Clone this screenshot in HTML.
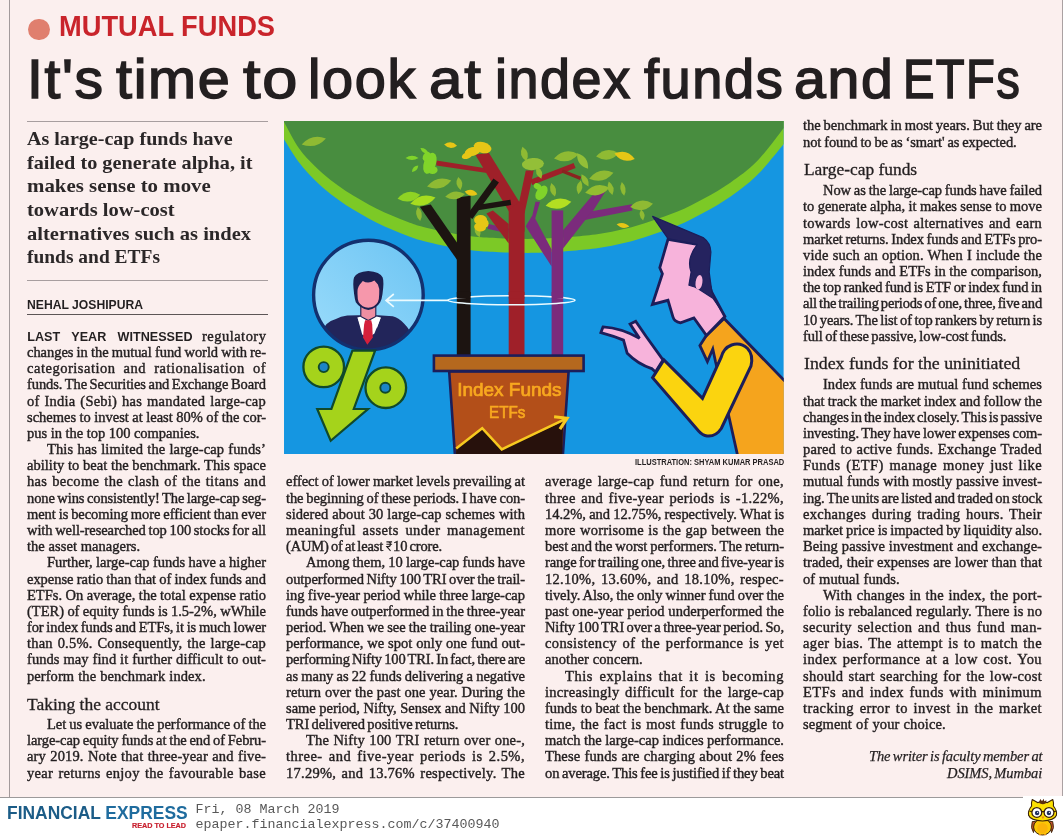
<!DOCTYPE html>
<html><head><meta charset="utf-8"><title>It's time to look at index funds and ETFs</title>
<style>
html,body{margin:0;padding:0}
body{width:1063px;height:837px;position:relative;overflow:hidden;background:#fbefee;}
#page{position:absolute;left:0;top:0;width:1063px;height:837px;overflow:hidden;background:#fbefee;will-change:transform}
.t{position:absolute;white-space:pre;transform-origin:0 0;margin:0;padding:0}
.rs{display:inline-block;vertical-align:-0.5px;margin:0 0.3px}
.body{font:15.0px/18px 'Liberation Serif',serif;color:#231f20;-webkit-text-stroke:0.42px #231f20;}
.bodyi{font:italic 15.0px/18px 'Liberation Serif',serif;color:#231f20;-webkit-text-stroke:0.25px #231f20;}
.sub{font:16.3px/22px 'Liberation Serif',serif;color:#231f20;-webkit-text-stroke:0.3px #231f20;}
.deck{font:bold 19px/24px 'Liberation Serif',serif;color:#2b2728;}
.lead{font:bold 12.6px/16px 'Liberation Sans',sans-serif;color:#231f20;}
.byline{font:bold 12.6px/16px 'Liberation Sans',sans-serif;color:#231f20;}
.kicker{font:bold 28.6px/30px 'Liberation Sans',sans-serif;color:#c9242b;}
.head{font:55.3px/60px 'Liberation Sans',sans-serif;color:#231f20;-webkit-text-stroke:1.5px #231f20;letter-spacing:1.6px;}
.cap{font:bold 8.4px/10px 'Liberation Sans',sans-serif;color:#231f20;}
.fe{font:bold 18.7px/22px 'Liberation Sans',sans-serif;color:#1b5c87;}
.rtl{font:bold 7.4px/8px 'Liberation Sans',sans-serif;color:#c8202f;-webkit-text-stroke:0.2px #c8202f;}
.mono{font:13.333px/15px 'Liberation Mono',monospace;color:#585858;}

.vl{position:absolute;left:8.9px;top:0;width:1.3px;height:797px;background:#a39a9b}
.vr{position:absolute;left:1061.5px;top:0;width:1.5px;height:797px;background:#aaa1a2}
.foot{position:absolute;left:0;top:798px;width:1063px;height:39px;background:#fff}
.fline{position:absolute;left:0;top:796.7px;width:1023px;height:1.4px;background:#9c9a9a}
.owlbox{position:absolute;left:1023px;top:795.5px;width:40px;height:41.5px;background:#fff}
.r1{position:absolute;left:27.3px;width:240.3px;height:1.6px;background:#a79e9f}
.dot{position:absolute;left:28.2px;top:18.6px;width:21.6px;height:21.6px;border-radius:50%;background:#e07f6e}
.owl{position:absolute;left:1025px;top:797px}
</style></head>
<body>
<div id="page">
<div class="vl"></div><div class="vr"></div>
<div class="foot"></div><div class="fline"></div><div class="owlbox"></div>
<svg class="owl" width="36" height="40" viewBox="1025 797 36 40">
<path d="M1032.3,821.5Q1030.2,828 1033.5,832.6L1036,821.5ZM1052.7,821.5Q1054.8,828 1051.5,832.6L1049,821.5Z" fill="#c4532e" stroke="#3a2208" stroke-width="0.9"/>
<ellipse cx="1042.5" cy="827" rx="8.9" ry="8" fill="#fcc707" stroke="#3a2208" stroke-width="1"/>
<ellipse cx="1042.5" cy="828.3" rx="5.2" ry="5.3" fill="#fbb40a"/>
<path d="M1039,834.6h2.4M1043.8,834.6h2.4" stroke="#e08a1a" stroke-width="1.3"/>
<path d="M1032.2,799.6L1037.5,802.6Q1042.5,801.2 1047.5,802.6L1052.8,799.6Q1054,803.5 1053.4,806Q1057.4,811 1056.4,815.3Q1054.5,820.6 1042.5,821Q1030.5,820.6 1028.6,815.3Q1027.6,811 1031.6,806Q1031,803.5 1032.2,799.6Z" fill="#fce103" stroke="#3a2208" stroke-width="1.1" stroke-linejoin="round"/>
<path d="M1038.6,802.8L1040.4,798.9L1042,801.2L1043.6,798.7L1044.4,801.4L1046.4,800L1045.9,803.2Q1042.5,805.4 1038.6,802.8Z" fill="#5b2f0f"/>
<circle cx="1036.8" cy="812.4" r="4.9" fill="#fff" stroke="#3a2208" stroke-width="1.25"/>
<circle cx="1049" cy="812.4" r="4.9" fill="#fff" stroke="#3a2208" stroke-width="1.25"/>
<path d="M1041.6,811.6h2.7M1031.9,811.8l-2.4,-0.8M1053.9,811.8l2.4,-0.8" stroke="#3a2208" stroke-width="1.1"/>
<circle cx="1037.1" cy="813" r="2.2" fill="#1f2f5e"/><circle cx="1048.9" cy="813" r="2.2" fill="#1f2f5e"/>
<circle cx="1037.6" cy="812.3" r="0.6" fill="#fff"/><circle cx="1049.4" cy="812.3" r="0.6" fill="#fff"/>
<path d="M1041.3,816.6h3.2l-1.6,2.3Z" fill="#f0831e"/>
</svg>
<div class="dot"></div>
<div class="r1" style="top:120.8px"></div>
<div class="r1" style="top:279.5px"></div>
<div class="r1" style="top:313.5px;background:#5c5556;height:1.1px"></div>

<svg style="position:absolute;left:284.4px;top:121.0px" width="499.8" height="333.2" viewBox="284.4 121.0 499.8 333.2">
<defs><clipPath id="cf"><rect x="284.4" y="121.0" width="499.8" height="333.2"/></clipPath><clipPath id="cc"><circle cx="368.8" cy="295.1" r="54.8"/></clipPath><linearGradient id="gc" x1="0" y1="1" x2="1" y2="0"><stop offset="0" stop-color="#9bdcfb"/><stop offset="1" stop-color="#6cc4f3"/></linearGradient></defs>
<g clip-path="url(#cf)">
<rect x="284.4" y="121.0" width="499.8" height="333.2" fill="#1596e1"/>
<path d="M284.4,139.3C284.6,139.6 283.1,137.3 285.6,141.2C288.1,145.1 294.6,156.1 299.5,162.6C304.4,169.1 309.9,174.8 315.1,180.0C320.3,185.2 325.4,189.5 330.6,193.7C335.8,197.8 341.0,201.5 346.2,204.9C351.4,208.3 356.5,211.2 361.7,214.2C366.9,217.2 372.0,220.2 377.2,222.8C382.4,225.4 387.6,227.6 392.8,229.8C398.0,232.0 403.1,234.1 408.3,236.0C413.5,237.9 416.7,239.2 423.8,241.0C430.9,242.8 442.6,245.5 451.2,247.1C459.8,248.7 467.6,250.0 475.7,250.8C483.8,251.7 490.1,251.9 500.0,252.2C509.9,252.5 522.9,253.1 535.0,252.8C547.1,252.6 562.0,251.5 572.7,250.7C583.4,249.9 590.2,249.3 599.0,248.0C607.8,246.7 616.6,245.0 625.4,242.8C634.2,240.6 642.9,237.8 651.7,234.9C660.5,232.0 669.2,229.3 678.0,225.6C686.8,221.9 695.6,217.3 704.4,212.5C713.2,207.7 721.9,202.8 730.7,196.7C739.5,190.5 748.2,184.4 757.1,175.6C766.0,166.8 779.7,149.3 784.2,144.0L784.2,121L284.4,121Z" fill="#7cc926"/>
<path d="M284.4,122.1C284.6,122.5 283.1,119.8 285.6,124.2C288.1,128.6 294.6,141.5 299.5,148.5C304.4,155.5 309.9,160.8 315.1,166.0C320.3,171.2 325.4,175.5 330.6,179.7C335.8,183.8 341.0,187.5 346.2,190.9C351.4,194.3 356.5,197.2 361.7,200.2C366.9,203.2 372.0,206.2 377.2,208.8C382.4,211.4 387.6,213.6 392.8,215.8C398.0,218.0 403.1,220.1 408.3,222.0C413.5,223.9 416.7,225.2 423.8,227.0C430.9,228.8 442.6,231.5 451.2,233.1C459.8,234.7 467.6,236.0 475.7,236.8C483.8,237.7 490.1,237.9 500.0,238.2C509.9,238.5 522.9,239.1 535.0,238.8C547.1,238.6 562.0,237.5 572.7,236.7C583.4,235.9 590.2,235.3 599.0,234.0C607.8,232.7 616.6,231.0 625.4,228.8C634.2,226.6 642.9,223.8 651.7,220.9C660.5,218.0 669.2,215.3 678.0,211.6C686.8,207.9 695.6,203.3 704.4,198.5C713.2,193.7 721.9,188.8 730.7,182.7C739.5,176.5 748.2,170.7 757.1,161.6C766.0,152.5 779.7,133.6 784.2,128.0L784.2,121L284.4,121Z" fill="#488d3f"/>
<path d="M-12.5,0Q0,-8.549999999999999 12.5,0Q0,8.549999999999999 -12.5,0Z" fill="#8fba33" transform="translate(314.2,141.4) rotate(-14)"/>
<line x1="509" y1="231" x2="488.5" y2="226.4" stroke="#7b2b7c" stroke-width="5" stroke-linecap="butt"/>
<path d="M552,266.6L526.1,226.3L532.8,215.2L535.9,201.8H540.4L535.6,218.6L552,249.5Z" fill="#7b2b7c"/>
<path d="M563.5,230.2L592.6,195.5L606.8,190L593.4,210.9L585.9,219.7L563.5,248.6Z" fill="#7b2b7c"/>
<path d="M592,211.2L632.3,204.2L632.7,210.5L585,220Z" fill="#7b2b7c"/>
<rect x="552" y="210.4" width="11.6" height="146" fill="#7b2b7c"/>
<path d="M436.8,160.4L486,168.2L487.5,173L436.8,165.6Z" fill="#9f2029"/>
<path d="M475.6,154.5L489.4,153.1L519.6,201.8L524.9,206V232L509.1,211Z" fill="#9f2029"/>
<path d="M509.1,243.5L486.8,213.6L493.3,210.6L509.1,224.1Z" fill="#9f2029"/>
<path d="M519.6,201.8L526.2,170.6H534.1L531.5,183.4L524.9,213.6L519.6,213Z" fill="#9f2029"/>
<line x1="531.6" y1="182.3" x2="575" y2="165.5" stroke="#9f2029" stroke-width="5.6" stroke-linecap="butt"/>
<line x1="562.5" y1="171" x2="581" y2="178.3" stroke="#8a2420" stroke-width="3.4" stroke-linecap="butt"/>
<path d="M509.1,357V210L519.6,201.8L524.9,206V357Z" fill="#9f2029"/>
<path d="M420.2,206.8L431.1,204.5L457.4,242.5V259.8Z" fill="#1c1411"/>
<line x1="470" y1="217" x2="496.6" y2="180.4" stroke="#1c1411" stroke-width="6.8" stroke-linecap="butt"/>
<line x1="478" y1="207.6" x2="511.2" y2="202.4" stroke="#1c1411" stroke-width="5.5" stroke-linecap="butt"/>
<path d="M457.2,357V197.6L471,195.7V357Z" fill="#1c1411"/>
<path d="M-6.5,0Q0,-4.2749999999999995 6.5,0Q0,4.2749999999999995 -6.5,0Z" fill="#80d42a" transform="translate(412.4,157.9) rotate(0)"/>
<path d="M-5.0,0Q0,-3.8 5.0,0Q0,3.8 -5.0,0Z" fill="#80d42a" transform="translate(424.9,150.9) rotate(35)"/>
<path d="M-4.5,0Q0,-3.8 4.5,0Q0,3.8 -4.5,0Z" fill="#80d42a" transform="translate(415.5,168.7) rotate(-45)"/>
<path d="M-12.5,0Q0,-9.5 12.5,0Q0,9.5 -12.5,0Z" fill="#8fba33" transform="translate(439.6,183.5) rotate(-14)"/>
<path d="M-11.5,0Q0,-9.5 11.5,0Q0,9.5 -11.5,0Z" fill="#8fd324" transform="translate(409.3,196.7) rotate(-10)"/>
<path d="M-13.0,0Q0,-9.5 13.0,0Q0,9.5 -13.0,0Z" fill="#a6dc1f" transform="translate(423.3,200.6) rotate(-14)"/>
<path d="M-7.0,0Q0,-5.699999999999999 7.0,0Q0,5.699999999999999 -7.0,0Z" fill="#8fba33" transform="translate(419.4,214) rotate(80)"/>
<path d="M-6.5,0Q0,-5.699999999999999 6.5,0Q0,5.699999999999999 -6.5,0Z" fill="#8fba33" transform="translate(459.8,183.5) rotate(80)"/>
<path d="M-10.0,0Q0,-7.6 10.0,0Q0,7.6 -10.0,0Z" fill="#8fba33" transform="translate(455.5,195.4) rotate(-8)"/>
<path d="M-6.5,0Q0,-5.699999999999999 6.5,0Q0,5.699999999999999 -6.5,0Z" fill="#e6c616" transform="translate(471.5,192.8) rotate(12)"/>
<path d="M-6.5,0Q0,-5.699999999999999 6.5,0Q0,5.699999999999999 -6.5,0Z" fill="#e6c616" transform="translate(451,145.1) rotate(5)"/>
<path d="M-7.5,0Q0,-6.6499999999999995 7.5,0Q0,6.6499999999999995 -7.5,0Z" fill="#8fba33" transform="translate(524.8,154) rotate(75)"/>
<path d="M-6.5,0Q0,-5.699999999999999 6.5,0Q0,5.699999999999999 -6.5,0Z" fill="#8fba33" transform="translate(539.5,172.6) rotate(70)"/>
<path d="M-12.5,0Q0,-9.5 12.5,0Q0,9.5 -12.5,0Z" fill="#8fba33" transform="translate(566.7,156.3) rotate(-10)"/>
<path d="M-9.5,0Q0,-7.6 9.5,0Q0,7.6 -9.5,0Z" fill="#93bf38" transform="translate(583,161) rotate(55)"/>
<path d="M-11.5,0Q0,-9.5 11.5,0Q0,9.5 -11.5,0Z" fill="#8fba33" transform="translate(607.9,154.8) rotate(-8)"/>
<path d="M-10.5,0Q0,-8.549999999999999 10.5,0Q0,8.549999999999999 -10.5,0Z" fill="#e6c616" transform="translate(625,156.3) rotate(15)"/>
<path d="M-12.5,0Q0,-9.5 12.5,0Q0,9.5 -12.5,0Z" fill="#8fba33" transform="translate(601.7,175.7) rotate(-14)"/>
<path d="M-12.5,0Q0,-9.975 12.5,0Q0,9.975 -12.5,0Z" fill="#93bd31" transform="translate(597.8,190.2) rotate(-12)"/>
<path d="M-7.0,0Q0,-5.699999999999999 7.0,0Q0,5.699999999999999 -7.0,0Z" fill="#8fba33" transform="translate(585.4,180.4) rotate(60)"/>
<path d="M-7.0,0Q0,-5.699999999999999 7.0,0Q0,5.699999999999999 -7.0,0Z" fill="#8fba33" transform="translate(579.9,187.4) rotate(100)"/>
<path d="M-7.0,0Q0,-5.699999999999999 7.0,0Q0,5.699999999999999 -7.0,0Z" fill="#8fba33" transform="translate(611,188.2) rotate(75)"/>
<path d="M-7.0,0Q0,-5.225 7.0,0Q0,5.225 -7.0,0Z" fill="#8fba33" transform="translate(623.4,188.9) rotate(80)"/>
<path d="M-7.0,0Q0,-5.699999999999999 7.0,0Q0,5.699999999999999 -7.0,0Z" fill="#8fba33" transform="translate(553.5,189.7) rotate(75)"/>
<path d="M-13.0,0Q0,-9.975 13.0,0Q0,9.975 -13.0,0Z" fill="#b3df22" transform="translate(558.9,203.7) rotate(-9)"/>
<path d="M-11.5,0Q0,-9.5 11.5,0Q0,9.5 -11.5,0Z" fill="#8fba33" transform="translate(642,205.3) rotate(-8)"/>
<path d="M-5.5,0Q0,-4.75 5.5,0Q0,4.75 -5.5,0Z" fill="#8fba33" transform="translate(642.5,215) rotate(80)"/>
<path d="M-6.5,0Q0,-4.75 6.5,0Q0,4.75 -6.5,0Z" fill="#e6c616" transform="translate(623.4,225.5) rotate(10)"/>
<path d="M-6.0,0Q0,-5.699999999999999 6.0,0Q0,5.699999999999999 -6.0,0Z" fill="#8fba33" transform="translate(478,231.5) rotate(70)"/>
<ellipse cx="0" cy="0" rx="6" ry="11" fill="#80d42a" transform="translate(430.3,163.3) rotate(20)"/>
<ellipse cx="0" cy="0" rx="5" ry="4" fill="#80d42a" transform="translate(433,170) rotate(0)"/>
<ellipse cx="0" cy="0" rx="3.5" ry="5" fill="#80d42a" transform="translate(427,156.5) rotate(30)"/>
<ellipse cx="0" cy="0" rx="11" ry="6" fill="#93bf38" transform="translate(533.3,164.1) rotate(-5)"/>
<ellipse cx="0" cy="0" rx="5" ry="8" fill="#80d42a" transform="translate(541.9,192.8) rotate(35)"/>
<ellipse cx="0" cy="0" rx="4" ry="3" fill="#80d42a" transform="translate(538,186.5) rotate(30)"/>
<ellipse cx="0" cy="0" rx="9" ry="5.5" fill="#e6c616" transform="translate(483,147.5) rotate(15)"/>
<ellipse cx="0" cy="0" rx="8" ry="4.5" fill="#e6c616" transform="translate(473,151.5) rotate(-15)"/>
<ellipse cx="0" cy="0" rx="5.5" ry="3.2" fill="#e6c616" transform="translate(467.5,155.5) rotate(-20)"/>
<ellipse cx="0" cy="0" rx="6.5" ry="5" fill="#e6c616" transform="translate(481,220) rotate(0)"/>
<ellipse cx="0" cy="0" rx="6" ry="4.5" fill="#e6c616" transform="translate(480.5,227) rotate(10)"/>
<ellipse cx="0" cy="0" rx="4" ry="4" fill="#e6c616" transform="translate(485,223.5) rotate(0)"/>
<ellipse cx="511.9" cy="300.3" rx="63.4" ry="4.5" fill="none" stroke="#ecfbff" stroke-width="1.6"/>
<rect x="457.2" y="292" width="13.8" height="6.4" fill="#1c1411"/>
<rect x="509.1" y="292" width="15.8" height="6.4" fill="#9f2029"/>
<rect x="552" y="292" width="11.6" height="6.4" fill="#7b2b7c"/>
<circle cx="368.8" cy="295.1" r="54.8" fill="url(#gc)"/>
<g clip-path="url(#cc)">
<path d="M322,356V333Q325,322 336.3,319Q341,316.4 347.7,315.6L359,315.2H378.3L393.1,316.2Q399,317.4 404.4,323.6Q411,330 414,340V356Z" fill="#22255a"/>
<path d="M357.9,317.6L363,316H374.6L381.2,317.6L374.8,333.6L368.6,338L362.6,334.6Z" fill="#fff"/>
<path d="M361.2,306H376.2V316.4L368.7,320.6L361.2,316.4Z" fill="#ee8fa2" stroke="#1c2150" stroke-width="1.1"/>
<path d="M365.5,320.2H371.6L372.6,324.4L373.2,337.4L367.7,344.8L363.4,337.4L364.5,324.4Z" fill="#d5203b"/>
<path d="M357.9,317.6L364.2,321.4L361.8,328.5ZM381.2,317.6L374.8,321.4L377.2,328.5Z" fill="#fff"/>
</g>
<path d="M354.5,294Q352.9,282 354.4,277.6Q357,271.9 368.7,271.1Q380.5,271.9 383.1,277.6Q384.6,282 382.9,294Q382.2,299.6 380.6,302.2Q377,308.4 368.7,310Q360.4,308.4 356.2,302.2Q355.2,299.6 354.5,294Z" fill="#1c2150"/>
<path d="M357.9,294Q357.4,288 360.2,284.4L363.2,281Q368.7,284.2 374.8,280.6L378.3,284.4Q380.2,288 379.6,294Q379.6,299 378.3,302Q375,307.6 368.7,307.7Q362.4,307.6 359,302Q357.9,299 357.9,294Z" fill="#f697ab"/>
<circle cx="368.8" cy="295.1" r="54.8" fill="none" stroke="#13306f" stroke-width="3.4"/>
<path d="M448.6,300.4H386.8M394.2,294L386.5,300.4L394.2,306.8" fill="none" stroke="#ecfbff" stroke-width="1.7"/>
<path d="M352.8,350.7H375.5L354.2,409H368.4L331.1,440.8L317.6,409H331.8Z" fill="#a5d31b" stroke="#11492b" stroke-width="2.2" stroke-linejoin="miter"/>
<circle cx="324.1" cy="366.9" r="20.3" fill="#a5d31b" stroke="#11492b" stroke-width="2.3"/>
<circle cx="324.1" cy="367.1" r="5" fill="#1c84c6" stroke="#11492b" stroke-width="1.9"/>
<circle cx="386.2" cy="387.7" r="20.3" fill="#a5d31b" stroke="#11492b" stroke-width="2.3"/>
<circle cx="385.7" cy="387.7" r="5" fill="#1c84c6" stroke="#11492b" stroke-width="1.9"/>
<path d="M449.6,371.5H569L563.2,456H455.4Z" fill="#b34f19" stroke="#1c1e5a" stroke-width="2.6"/>
<path d="M456.6,448.6L482.6,428.2L502.2,449.4L558,424L563.6,421.5L562.6,455H456.4Z" fill="#27110c"/>
<path d="M456.6,448.6L482.6,428.2L502.2,449.4L566,419" fill="none" stroke="#f7c920" stroke-width="2.5" stroke-linejoin="miter"/>
<path d="M554.5,416.8L567.5,418.2L560.3,429.2" fill="none" stroke="#f7c920" stroke-width="3.1"/>
<rect x="434.3" y="355.6" width="149.7" height="15.4" fill="#b5681e" stroke="#1c1e5a" stroke-width="2.6"/>
<text x="457.6" y="396" textLength="104.3" lengthAdjust="spacingAndGlyphs" font-family="Liberation Sans, sans-serif" font-size="17.6" fill="#f8a81f" stroke="#f8a81f" stroke-width="0.7">Index Funds</text>
<text x="489.4" y="418.3" textLength="36.4" lengthAdjust="spacingAndGlyphs" font-family="Liberation Sans, sans-serif" font-size="15.6" fill="#f8a81f" stroke="#f8a81f" stroke-width="0.65">ETFs</text>
<path d="M724.5,318.5L790,386V460H739L729.2,416L716,362L713.2,349L707.8,361.5L700.3,345.6L706.8,335.4Z" fill="#f5a41d" stroke="#1c1e5a" stroke-width="2.8" stroke-linejoin="miter"/>
<path d="M668.4,239.3L697.7,244.3L712,292L725.3,316.5L706.9,335.6L694.3,317.9L681,322.9Q674.5,321.5 673.4,317L668.4,300.3L652.8,304.4L662.8,273.8L660.2,267.7Z" fill="#f7b3db" stroke="#1c1e5a" stroke-width="2.8" stroke-linejoin="miter"/>
<path d="M653,216.4L703.5,237.6Q711,243 711.3,252L709.6,272L712.3,292Q717,305 725.6,316.2L713.6,298.6L700.5,290L695.2,287L689.3,285.3L691.5,272Q686.5,258.5 697.7,244.3L668.4,238.6Z" fill="#25235f" stroke="#1c1e5a" stroke-width="1.2" stroke-linejoin="round"/>
<ellipse cx="699.4" cy="282.3" rx="3.4" ry="7.4" fill="#f7b3db" transform="rotate(8 699.4 282.3)"/>
<path d="M663.4,359.9L646.4,336.3L636.1,321.3L630.5,324.1L639.9,338.4Q622,328 603.4,326.9L601.3,332.6Q614,336 623.9,340.1L627.6,353.3Q638,364 652.1,368.6L655.9,372.1Z" fill="#f7b3db" stroke="#1c1e5a" stroke-width="2.8" stroke-linejoin="miter"/>
<path d="M702.9,398.4L721.7,357Q724,348 732,345Q741,342 748,348.5Q754,355 751.4,366L721.7,428.5Q716,437 707.5,436Q703,435.5 699,431L653,377.7L664.3,359.9Z" fill="#fbd40f" stroke="#1c1e5a" stroke-width="3" stroke-linejoin="miter"/>
</g></svg>
<div class="t body" style="left:27.30px;top:342.98px;transform:scaleX(0.968);letter-spacing:-0.056px;word-spacing:-0.403px;">changes in the mutual fund world with re-</div>
<div class="t body" style="left:27.30px;top:359.16px;transform:scaleX(0.968);letter-spacing:0.529px;word-spacing:3.995px;">categorisation and rationalisation of</div>
<div class="t body" style="left:27.30px;top:375.34px;transform:scaleX(0.968);letter-spacing:-0.097px;word-spacing:-0.944px;">funds. The Securities and Exchange Board</div>
<div class="t body" style="left:27.30px;top:391.52px;transform:scaleX(0.968);letter-spacing:0.234px;word-spacing:1.091px;">of India (Sebi) has mandated large-cap</div>
<div class="t body" style="left:27.30px;top:407.70px;transform:scaleX(0.968);letter-spacing:-0.020px;word-spacing:-0.130px;">schemes to invest at least 80% of the cor-</div>
<div class="t body" style="left:27.30px;top:423.88px;transform:scaleX(0.968);letter-spacing:-0.015px;word-spacing:-0.105px;">pus in the top 100 companies.</div>
<div class="t body" style="left:47.30px;top:440.06px;transform:scaleX(0.968);letter-spacing:0.103px;word-spacing:0.468px;">This has limited the large-cap funds’</div>
<div class="t body" style="left:27.30px;top:456.24px;transform:scaleX(0.968);letter-spacing:0.015px;word-spacing:0.063px;">ability to beat the benchmark. This space</div>
<div class="t body" style="left:27.30px;top:472.42px;transform:scaleX(0.968);letter-spacing:0.324px;word-spacing:1.079px;">has become the clash of the titans and</div>
<div class="t body" style="left:27.30px;top:488.60px;transform:scaleX(0.968);letter-spacing:-0.103px;word-spacing:-1.052px;">none wins consistently! The large-cap seg-</div>
<div class="t body" style="left:27.30px;top:504.78px;transform:scaleX(0.968);letter-spacing:-0.076px;word-spacing:-0.634px;">ment is becoming more efficient than ever</div>
<div class="t body" style="left:27.30px;top:520.96px;transform:scaleX(0.968);letter-spacing:-0.093px;word-spacing:-0.813px;">with well-researched top 100 stocks for all</div>
<div class="t body" style="left:27.30px;top:537.14px;transform:scaleX(0.968);letter-spacing:0.024px;word-spacing:0.137px;">the asset managers.</div>
<div class="t body" style="left:47.30px;top:553.32px;transform:scaleX(0.968);letter-spacing:-0.023px;word-spacing:-0.216px;">Further, large-cap funds have a higher</div>
<div class="t body" style="left:27.30px;top:569.50px;transform:scaleX(0.968);letter-spacing:-0.046px;word-spacing:-0.337px;">expense ratio than that of index funds and</div>
<div class="t body" style="left:27.30px;top:585.68px;transform:scaleX(0.968);letter-spacing:-0.015px;word-spacing:-0.124px;">ETFs. On average, the total expense ratio</div>
<div class="t body" style="left:27.30px;top:601.86px;transform:scaleX(0.968);letter-spacing:-0.026px;word-spacing:-0.204px;">(TER) of equity funds is 1.5-2%, wWhile</div>
<div class="t body" style="left:27.30px;top:618.04px;transform:scaleX(0.968);letter-spacing:-0.118px;word-spacing:-0.756px;">for index funds and ETFs, it is much lower</div>
<div class="t body" style="left:27.30px;top:634.22px;transform:scaleX(0.968);letter-spacing:0.195px;word-spacing:1.137px;">than 0.5%. Consequently, the large-cap</div>
<div class="t body" style="left:27.30px;top:650.40px;transform:scaleX(0.968);letter-spacing:0.062px;word-spacing:0.234px;">funds may find it further difficult to out-</div>
<div class="t body" style="left:27.30px;top:666.58px;transform:scaleX(0.968);letter-spacing:0.064px;word-spacing:0.367px;">perform the benchmark index.</div>
<div class="t body" style="left:47.30px;top:715.12px;transform:scaleX(0.968);letter-spacing:-0.053px;word-spacing:-0.412px;">Let us evaluate the performance of the</div>
<div class="t body" style="left:27.30px;top:731.30px;transform:scaleX(0.968);letter-spacing:-0.094px;word-spacing:-0.706px;">large-cap equity funds at the end of Febru-</div>
<div class="t body" style="left:27.30px;top:747.48px;transform:scaleX(0.968);letter-spacing:0.141px;word-spacing:0.576px;">ary 2019. Note that three-year and five-</div>
<div class="t body" style="left:27.30px;top:763.66px;transform:scaleX(0.968);letter-spacing:0.298px;word-spacing:1.387px;">year returns enjoy the favourable base</div>
<div class="t body" style="left:286.20px;top:472.42px;transform:scaleX(0.968);letter-spacing:-0.046px;word-spacing:-0.402px;">effect of lower market levels prevailing at</div>
<div class="t body" style="left:286.20px;top:488.60px;transform:scaleX(0.968);letter-spacing:-0.093px;word-spacing:-0.697px;">the beginning of these periods. I have con-</div>
<div class="t body" style="left:286.20px;top:504.78px;transform:scaleX(0.968);letter-spacing:0.056px;word-spacing:0.266px;">sidered about 30 large-cap schemes with</div>
<div class="t body" style="left:286.20px;top:520.96px;transform:scaleX(0.968);letter-spacing:0.393px;word-spacing:2.729px;">meaningful assets under management</div>
<div class="t body" style="left:286.20px;top:537.14px;transform:scaleX(0.968);letter-spacing:-0.179px;word-spacing:-1.227px;">(AUM) of at least <svg class="rs" viewBox="0 0 10 14" width="7.4" height="10.4"><path d="M1 1.2H9M1 4.4H9M1.2 1.2H3.6Q6.6 1.2 6.6 4.4Q6.6 7.6 3.6 7.6H1.4L6.8 13.4" fill="none" stroke="#231f20" stroke-width="1.5"/></svg>10 crore.</div>
<div class="t body" style="left:306.20px;top:553.32px;transform:scaleX(0.968);letter-spacing:-0.044px;word-spacing:-0.378px;">Among them, 10 large-cap funds have</div>
<div class="t body" style="left:286.20px;top:569.50px;transform:scaleX(0.968);letter-spacing:-0.101px;word-spacing:-0.864px;">outperformed Nifty 100 TRI over the trail-</div>
<div class="t body" style="left:286.20px;top:585.68px;transform:scaleX(0.968);letter-spacing:-0.025px;word-spacing:-0.252px;">ing five-year period while three large-cap</div>
<div class="t body" style="left:286.20px;top:601.86px;transform:scaleX(0.968);letter-spacing:-0.065px;word-spacing:-0.650px;">funds have outperformed in the three-year</div>
<div class="t body" style="left:286.20px;top:618.04px;transform:scaleX(0.968);letter-spacing:-0.044px;word-spacing:-0.364px;">period. When we see the trailing one-year</div>
<div class="t body" style="left:286.20px;top:634.22px;transform:scaleX(0.968);letter-spacing:0.038px;word-spacing:0.151px;">performance, we spot only one fund out-</div>
<div class="t body" style="left:286.20px;top:650.40px;transform:scaleX(0.968);letter-spacing:-0.160px;word-spacing:-1.229px;">performing Nifty 100 TRI. In fact, there are</div>
<div class="t body" style="left:286.20px;top:666.58px;transform:scaleX(0.968);letter-spacing:-0.047px;word-spacing:-0.337px;">as many as 22 funds delivering a negative</div>
<div class="t body" style="left:286.20px;top:682.76px;transform:scaleX(0.968);letter-spacing:0.068px;word-spacing:0.243px;">return over the past one year. During the</div>
<div class="t body" style="left:286.20px;top:698.94px;transform:scaleX(0.968);letter-spacing:-0.014px;word-spacing:-0.115px;">same period, Nifty, Sensex and Nifty 100</div>
<div class="t body" style="left:286.20px;top:715.12px;transform:scaleX(0.968);letter-spacing:-0.089px;word-spacing:-1.124px;">TRI delivered positive returns.</div>
<div class="t body" style="left:306.20px;top:731.30px;transform:scaleX(0.968);letter-spacing:0.168px;word-spacing:0.601px;">The Nifty 100 TRI return over one-,</div>
<div class="t body" style="left:286.20px;top:747.48px;transform:scaleX(0.968);letter-spacing:0.473px;word-spacing:2.145px;">three- and five-year periods is 2.5%,</div>
<div class="t body" style="left:286.20px;top:763.66px;transform:scaleX(0.968);letter-spacing:0.270px;word-spacing:1.491px;">17.29%, and 13.76% respectively. The</div>
<div class="t body" style="left:545.00px;top:472.42px;transform:scaleX(0.968);letter-spacing:0.323px;word-spacing:1.504px;">average large-cap fund return for one,</div>
<div class="t body" style="left:545.00px;top:488.60px;transform:scaleX(0.968);letter-spacing:0.338px;word-spacing:1.575px;">three and five-year periods is -1.22%,</div>
<div class="t body" style="left:545.00px;top:504.78px;transform:scaleX(0.968);letter-spacing:-0.039px;word-spacing:-0.380px;">14.2%, and 12.75%, respectively. What is</div>
<div class="t body" style="left:545.00px;top:520.96px;transform:scaleX(0.968);letter-spacing:0.187px;word-spacing:0.705px;">more worrisome is the gap between the</div>
<div class="t body" style="left:545.00px;top:537.14px;transform:scaleX(0.968);letter-spacing:-0.070px;word-spacing:-0.595px;">best and the worst performers. The return-</div>
<div class="t body" style="left:545.00px;top:553.32px;transform:scaleX(0.968);letter-spacing:-0.143px;word-spacing:-1.152px;">range for trailing one, three and five-year is</div>
<div class="t body" style="left:545.00px;top:569.50px;transform:scaleX(0.968);letter-spacing:0.300px;word-spacing:1.610px;">12.10%, 13.60%, and 18.10%, respec-</div>
<div class="t body" style="left:545.00px;top:585.68px;transform:scaleX(0.968);letter-spacing:-0.070px;word-spacing:-0.525px;">tively. Also, the only winner fund over the</div>
<div class="t body" style="left:545.00px;top:601.86px;transform:scaleX(0.968);letter-spacing:0.032px;word-spacing:0.189px;">past one-year period underperformed the</div>
<div class="t body" style="left:545.00px;top:618.04px;transform:scaleX(0.968);letter-spacing:-0.138px;word-spacing:-1.034px;">Nifty 100 TRI over a three-year period. So,</div>
<div class="t body" style="left:545.00px;top:634.22px;transform:scaleX(0.968);letter-spacing:0.389px;word-spacing:1.765px;">consistency of the performance is yet</div>
<div class="t body" style="left:545.00px;top:650.40px;transform:scaleX(0.968);letter-spacing:0.038px;word-spacing:0.371px;">another concern.</div>
<div class="t body" style="left:565.00px;top:666.58px;transform:scaleX(0.968);letter-spacing:0.580px;word-spacing:2.345px;">This explains that it is becoming</div>
<div class="t body" style="left:545.00px;top:682.76px;transform:scaleX(0.968);letter-spacing:0.298px;word-spacing:1.824px;">increasingly difficult for the large-cap</div>
<div class="t body" style="left:545.00px;top:698.94px;transform:scaleX(0.968);letter-spacing:-0.015px;word-spacing:-0.107px;">funds to beat the benchmark. At the same</div>
<div class="t body" style="left:545.00px;top:715.12px;transform:scaleX(0.968);letter-spacing:0.262px;word-spacing:0.919px;">time, the fact is most funds struggle to</div>
<div class="t body" style="left:545.00px;top:731.30px;transform:scaleX(0.968);letter-spacing:-0.007px;word-spacing:-0.085px;">match the large-cap indices performance.</div>
<div class="t body" style="left:545.00px;top:747.48px;transform:scaleX(0.968);letter-spacing:0.118px;word-spacing:0.460px;">These funds are charging about 2% fees</div>
<div class="t body" style="left:545.00px;top:763.66px;transform:scaleX(0.968);letter-spacing:-0.121px;word-spacing:-0.847px;">on average. This fee is justified if they beat</div>
<div class="t body" style="left:803.40px;top:116.46px;transform:scaleX(0.968);letter-spacing:-0.070px;word-spacing:-0.500px;">the benchmark in most years. But they are</div>
<div class="t body" style="left:803.40px;top:132.64px;transform:scaleX(0.968);letter-spacing:-0.100px;word-spacing:-0.680px;">not found to be as ‘smart&#x27; as expected.</div>
<div class="t body" style="left:823.40px;top:181.18px;transform:scaleX(0.968);letter-spacing:-0.089px;word-spacing:-0.693px;">Now as the large-cap funds have failed</div>
<div class="t body" style="left:803.40px;top:197.36px;transform:scaleX(0.968);letter-spacing:-0.024px;word-spacing:-0.172px;">to generate alpha, it makes sense to move</div>
<div class="t body" style="left:803.40px;top:213.54px;transform:scaleX(0.968);letter-spacing:0.264px;word-spacing:1.534px;">towards low-cost alternatives and earn</div>
<div class="t body" style="left:803.40px;top:229.72px;transform:scaleX(0.968);letter-spacing:-0.102px;word-spacing:-0.851px;">market returns. Index funds and ETFs pro-</div>
<div class="t body" style="left:803.40px;top:245.90px;transform:scaleX(0.968);letter-spacing:0.128px;word-spacing:0.438px;">vide such an option. When I include the</div>
<div class="t body" style="left:803.40px;top:262.08px;transform:scaleX(0.968);letter-spacing:-0.002px;word-spacing:-0.013px;">index funds and ETFs in the comparison,</div>
<div class="t body" style="left:803.40px;top:278.26px;transform:scaleX(0.968);letter-spacing:-0.150px;word-spacing:-0.875px;">the top ranked fund is ETF or index fund in</div>
<div class="t body" style="left:803.40px;top:294.44px;transform:scaleX(0.968);letter-spacing:-0.192px;word-spacing:-1.411px;">all the trailing periods of one, three, five and</div>
<div class="t body" style="left:803.40px;top:310.62px;transform:scaleX(0.968);letter-spacing:-0.149px;word-spacing:-0.933px;">10 years. The list of top rankers by return is</div>
<div class="t body" style="left:803.40px;top:326.80px;transform:scaleX(0.968);letter-spacing:-0.114px;word-spacing:-1.059px;">full of these passive, low-cost funds.</div>
<div class="t body" style="left:823.40px;top:375.34px;transform:scaleX(0.968);letter-spacing:0.030px;word-spacing:0.130px;">Index funds are mutual fund schemes</div>
<div class="t body" style="left:803.40px;top:391.52px;transform:scaleX(0.968);letter-spacing:-0.046px;word-spacing:-0.336px;">that track the market index and follow the</div>
<div class="t body" style="left:803.40px;top:407.70px;transform:scaleX(0.968);letter-spacing:-0.168px;word-spacing:-1.320px;">changes in the index closely. This is passive</div>
<div class="t body" style="left:803.40px;top:423.88px;transform:scaleX(0.968);letter-spacing:-0.097px;word-spacing:-0.944px;">investing. They have lower expenses com-</div>
<div class="t body" style="left:803.40px;top:440.06px;transform:scaleX(0.968);letter-spacing:0.154px;word-spacing:0.719px;">pared to active funds. Exchange Traded</div>
<div class="t body" style="left:803.40px;top:456.24px;transform:scaleX(0.968);letter-spacing:0.423px;word-spacing:1.762px;">Funds (ETF) manage money just like</div>
<div class="t body" style="left:803.40px;top:472.42px;transform:scaleX(0.968);letter-spacing:0.010px;word-spacing:0.051px;">mutual funds with mostly passive invest-</div>
<div class="t body" style="left:803.40px;top:488.60px;transform:scaleX(0.968);letter-spacing:-0.148px;word-spacing:-1.021px;">ing. The units are listed and traded on stock</div>
<div class="t body" style="left:803.40px;top:504.78px;transform:scaleX(0.968);letter-spacing:0.310px;word-spacing:1.756px;">exchanges during trading hours. Their</div>
<div class="t body" style="left:803.40px;top:520.96px;transform:scaleX(0.968);letter-spacing:-0.062px;word-spacing:-0.546px;">market price is impacted by liquidity also.</div>
<div class="t body" style="left:803.40px;top:537.14px;transform:scaleX(0.968);letter-spacing:0.046px;word-spacing:0.265px;">Being passive investment and exchange-</div>
<div class="t body" style="left:803.40px;top:553.32px;transform:scaleX(0.968);letter-spacing:0.011px;word-spacing:0.047px;">traded, their expenses are lower than that</div>
<div class="t body" style="left:803.40px;top:569.50px;transform:scaleX(0.968);letter-spacing:0.044px;word-spacing:0.218px;">of mutual funds.</div>
<div class="t body" style="left:823.40px;top:585.68px;transform:scaleX(0.968);letter-spacing:0.198px;word-spacing:0.727px;">With changes in the index, the port-</div>
<div class="t body" style="left:803.40px;top:601.86px;transform:scaleX(0.968);letter-spacing:0.066px;word-spacing:0.284px;">folio is rebalanced regularly. There is no</div>
<div class="t body" style="left:803.40px;top:618.04px;transform:scaleX(0.968);letter-spacing:0.375px;word-spacing:1.700px;">security selection and thus fund man-</div>
<div class="t body" style="left:803.40px;top:634.22px;transform:scaleX(0.968);letter-spacing:0.363px;word-spacing:1.208px;">ager bias. The attempt is to match the</div>
<div class="t body" style="left:803.40px;top:650.40px;transform:scaleX(0.968);letter-spacing:0.407px;word-spacing:1.496px;">index performance at a low cost. You</div>
<div class="t body" style="left:803.40px;top:666.58px;transform:scaleX(0.968);letter-spacing:0.276px;word-spacing:1.320px;">should start searching for the low-cost</div>
<div class="t body" style="left:803.40px;top:682.76px;transform:scaleX(0.968);letter-spacing:0.419px;word-spacing:1.697px;">ETFs and index funds with minimum</div>
<div class="t body" style="left:803.40px;top:698.94px;transform:scaleX(0.968);letter-spacing:0.440px;word-spacing:1.708px;">tracking error to invest in the market</div>
<div class="t body" style="left:803.40px;top:715.12px;transform:scaleX(0.968);letter-spacing:0.089px;word-spacing:0.417px;">segment of your choice.</div>
<div class="t lead" style="left:27.30px;top:328.80px;word-spacing:7.842px;">LAST YEAR WITNESSED</div>
<div class="t body" style="left:201.50px;top:326.80px;transform:scaleX(0.968);letter-spacing:0.489px;">regulatory</div>
<div class="t bodyi" style="left:868.80px;top:747.48px;transform:scaleX(0.968);letter-spacing:-0.139px;word-spacing:-1.056px;">The writer is faculty member at</div>
<div class="t bodyi" style="left:947.00px;top:763.66px;transform:scaleX(0.968);letter-spacing:-0.086px;word-spacing:-1.365px;">DSIMS, Mumbai</div>
<div class="t sub" style="left:27.46px;top:693.60px;transform:scaleX(1.0722);">Taking the account</div>
<div class="t sub" style="left:803.56px;top:158.90px;transform:scaleX(1.0680);">Large-cap funds</div>
<div class="t sub" style="left:803.56px;top:353.20px;transform:scaleX(1.0918);">Index funds for the uninitiated</div>
<div class="t deck" style="left:27.30px;top:127.10px;transform:scaleX(1.0554);">As large-cap funds have</div>
<div class="t deck" style="left:27.30px;top:150.70px;transform:scaleX(1.0651);">failed to generate alpha, it</div>
<div class="t deck" style="left:27.30px;top:174.40px;transform:scaleX(1.0986);">makes sense to move</div>
<div class="t deck" style="left:27.30px;top:198.10px;transform:scaleX(1.0797);">towards low-cost</div>
<div class="t deck" style="left:27.30px;top:221.70px;transform:scaleX(1.0802);">alternatives such as index</div>
<div class="t deck" style="left:27.30px;top:245.40px;transform:scaleX(1.0239);">funds and ETFs</div>
<div class="t byline" style="left:27.40px;top:296.70px;transform:scaleX(0.9662);">NEHAL JOSHIPURA</div>
<div class="t kicker" style="left:58.55px;top:11.40px;transform:scaleX(0.9531);">MUTUAL FUNDS</div>
<div class="t head" style="left:26.82px;top:48.60px;transform:scaleX(1.0316);">It&#x27;s</div>
<div class="t head" style="left:116.28px;top:48.60px;transform:scaleX(1.0409);">time</div>
<div class="t head" style="left:242.86px;top:48.60px;transform:scaleX(1.1403);">to</div>
<div class="t head" style="left:308.33px;top:48.60px;transform:scaleX(1.0107);">look</div>
<div class="t head" style="left:429.14px;top:48.60px;transform:scaleX(1.0872);">at</div>
<div class="t head" style="left:495.31px;top:48.60px;transform:scaleX(0.9746);">index</div>
<div class="t head" style="left:644.13px;top:48.60px;transform:scaleX(0.9791);">funds</div>
<div class="t head" style="left:794.21px;top:48.60px;transform:scaleX(1.0352);">and</div>
<div class="t head" style="left:903.13px;top:48.60px;transform:scaleX(0.8533);">ETFs</div>
<div class="t cap" style="left:635.40px;top:457.20px;transform:scaleX(0.8960);">ILLUSTRATION: SHYAM KUMAR PRASAD</div>
<div class="t fe" style="left:6.67px;top:802.40px;transform:scaleX(0.9320);">FINANCIAL <span style="color:#1f6c9e">EXPRESS</span></div>
<div class="t rtl" style="left:132.40px;top:821.60px;transform:scaleX(0.9776);">READ TO LEAD</div>
<div class="t mono" style="left:195.60px;top:801.70px;">Fri, 08 March 2019</div>
<div class="t mono" style="left:195.60px;top:816.50px;">epaper.financialexpress.com/c/37400940</div>
</div>
</body></html>
